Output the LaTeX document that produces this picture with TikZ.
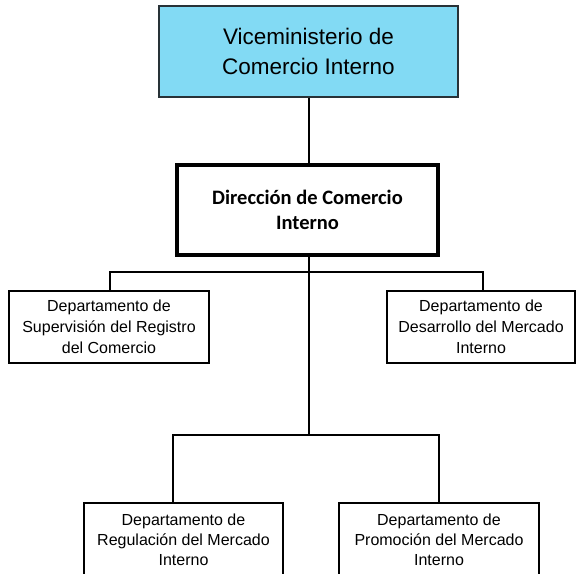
\documentclass[tikz,border=0pt]{standalone}
\usepackage{fontspec}
\setmainfont{Liberation Sans}
\newfontfamily\carlito{Carlito}
\definecolor{vicefill}{RGB}{130,218,244}
\definecolor{viceedge}{RGB}{40,50,55}
\begin{document}
\begin{tikzpicture}[x=1pt,y=-1pt,
  box/.style={draw=black,line width=1.4pt,rectangle,align=center,inner sep=0pt},
  conn/.style={draw=black,line width=1.4pt}]
\useasboundingbox (0,0) rectangle (577,573);
\node[box,draw=viceedge,fill=vicefill,minimum width=299pt,minimum height=91pt,
  font=\fontsize{22.5}{30}\selectfont] (vice) at (308.5,51.5) {Viceministerio de\\Comercio Interno};
\node[box,line width=3.2pt,minimum width=261pt,minimum height=90pt,
  font=\carlito\bfseries\fontsize{20.5}{25}\selectfont] (dir) at (307.5,210) {Dirección de Comercio\\Interno};
\node[box,minimum width=200pt,minimum height=72pt,
  font=\fontsize{16}{21}\selectfont] (sup) at (109,327) {Departamento de\\Supervisión del Registro\\del Comercio};
\node[box,minimum width=188pt,minimum height=72pt,
  font=\fontsize{16}{21}\selectfont] (des) at (481,327) {Departamento de\\Desarrollo del Mercado\\Interno};
\node[box,minimum width=199pt,minimum height=74pt,
  font=\fontsize{16}{20}\selectfont] (reg) at (183.5,540) {Departamento de\\Regulación del Mercado\\Interno};
\node[box,minimum width=200pt,minimum height=74pt,
  font=\fontsize{16}{20}\selectfont] (pro) at (439,540) {Departamento de\\Promoción del Mercado\\Interno};
\coordinate (hl) at (110,272);
\coordinate (hr) at (483,272);
\coordinate (bl) at (173,435);
\coordinate (bm) at (309,435);
\coordinate (br) at (439,435);
\draw[conn] (vice.south -| bm) -- (dir.north -| bm);
\draw[conn] (dir.south -| bm) -- (bm);
\draw[conn] (sup.north -| hl) -- (hl) -- (hr) -- (des.north -| hr);
\draw[conn] (reg.north -| bl) -- (bl) -- (br) -- (pro.north);
\end{tikzpicture}
\end{document}
